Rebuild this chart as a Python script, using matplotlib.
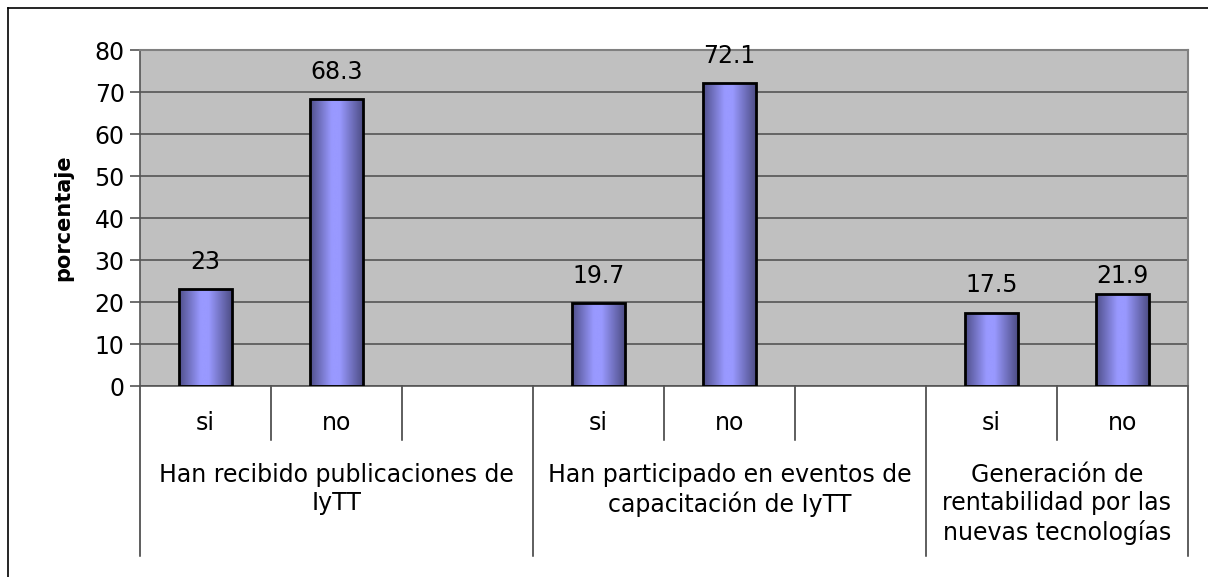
import matplotlib.pyplot as plt
import numpy as np
from matplotlib.colors import LinearSegmentedColormap
from matplotlib.lines import Line2D

plt.rcParams['font.family'] = ['DejaVu Sans']

# datos
respuestas = ['si', 'no', '', 'si', 'no', '', 'si', 'no']
valores = [23, 68.3, None, 19.7, 72.1, None, 17.5, 21.9]
grupos = ['Han recibido publicaciones de\nIyTT',
          'Han participado en eventos de\ncapacitación de IyTT',
          'Generación de\nrentabilidad por las\nnuevas tecnologías']
grupo_slots = [(0, 3), (3, 6), (6, 8)]
# separacion (pt) entre barra y etiqueta, como la coloca Excel
sep_etiqueta = [11, 11, 11, 11, 11, 4]

W, H = 1208, 577
fig = plt.figure(figsize=(W / 100, H / 100), dpi=100)
FS = 17

# marco de la figura (solo arriba e izquierda, como en la imagen recortada)
fig.add_artist(Line2D([8 / W, 1], [1 - 8 / H, 1 - 8 / H], color='black', lw=1.2))
fig.add_artist(Line2D([8 / W, 8 / W], [0, 1 - 8 / H], color='black', lw=1.2))

left, right, top, bottom = 140, 1188, 50, 386
ax = fig.add_axes([left / W, 1 - bottom / H, (right - left) / W, (bottom - top) / H])
ax.set_facecolor('#c0c0c0')

n = len(respuestas)
ax.set_xlim(-0.5, n - 0.5)
ax.set_ylim(0, 80)
ax.set_yticks(np.arange(0, 81, 10))
ax.yaxis.grid(True, color='#555555', lw=1.2)
ax.set_axisbelow(True)
ax.tick_params(axis='y', labelsize=FS, length=7, width=1.2, color='#555555', pad=4)
ax.set_xticks([])
for s in ['top', 'right']:
    ax.spines[s].set_color('#808080')
    ax.spines[s].set_linewidth(1.5)
ax.spines['left'].set_color('#555555')
ax.spines['bottom'].set_color('#555555')
ax.spines['left'].set_linewidth(1.2)
ax.spines['bottom'].set_linewidth(1.2)
ax.set_ylabel('porcentaje', fontsize=15, fontweight='bold')
ax.yaxis.set_label_coords((73 - left) / (right - left), 0.5)

# degradado de las barras
cmap = LinearSegmentedColormap.from_list(
    'excel', [(0, '#4f4f8a'), (0.4, '#9999ff'), (0.55, '#9999ff'), (1, '#4a4a80')])
grad = np.linspace(0, 1, 256).reshape(1, -1)

bar_w = 0.41
xs = [i for i, v in enumerate(valores) if v is not None]
vs = [v for v in valores if v is not None]
bars = ax.bar(xs, vs, width=bar_w, color='none', edgecolor='black', linewidth=2, zorder=3)
for b, v, d in zip(bars, vs, sep_etiqueta):
    x0 = b.get_x()
    im = ax.imshow(grad, cmap=cmap, aspect='auto', zorder=2.5,
                   extent=[x0, x0 + b.get_width(), 0, v], interpolation='bicubic')
    im.set_clip_path(b)
    ax.annotate(f'{v:g}', (b.get_x() + b.get_width() / 2, v), xytext=(0, d),
                textcoords='offset points', ha='center', va='bottom', fontsize=FS)
ax.set_xlim(-0.5, n - 0.5)
ax.set_ylim(0, 80)


def ypx(p):
    return (bottom - p) / (bottom - top)


tr = ax.get_xaxis_transform()
# etiquetas si/no
for i, r in enumerate(respuestas):
    ax.text(i, ypx(423), r, transform=tr, ha='center', va='center', fontsize=FS)

# separadores cortos y largos
for k in range(n + 1):
    xb = k - 0.5
    es_largo = any(xb == g[0] - 0.5 for g in grupo_slots) or xb == n - 0.5
    y_end = ypx(556) if es_largo else ypx(440)
    ax.add_line(Line2D([xb, xb], [0, y_end], transform=tr, color='#333333',
                       lw=1.1, clip_on=False))

# etiquetas de grupo
for g, (a, b) in zip(grupos, grupo_slots):
    ax.text((a + b - 1) / 2, ypx(463), g, transform=tr, ha='center', va='top',
            fontsize=FS, linespacing=1.22)

fig.savefig('out.png', dpi=100)
